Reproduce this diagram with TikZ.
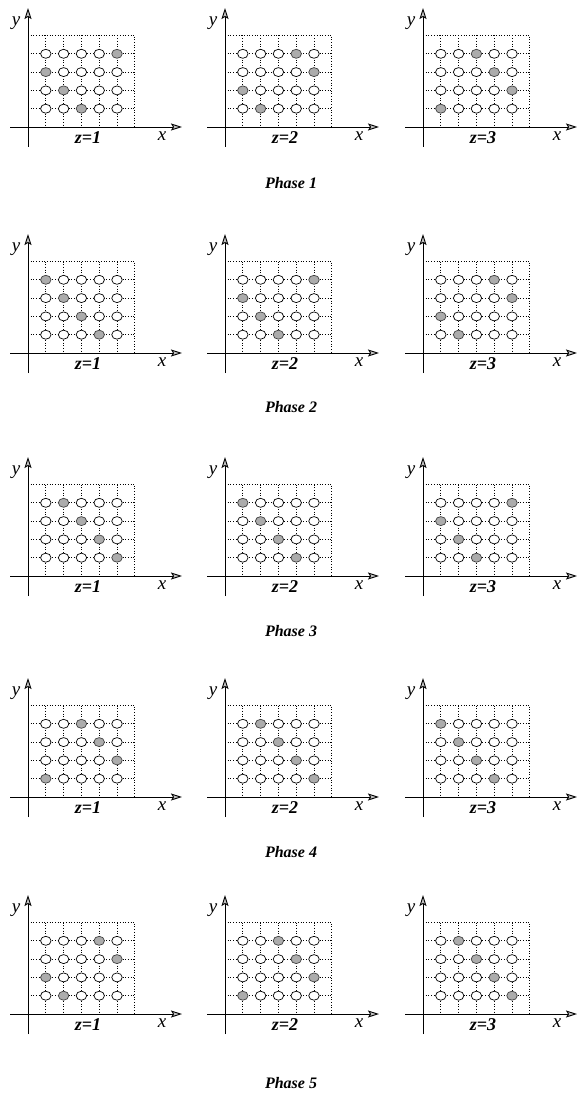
\documentclass[tikz,border=0pt]{standalone}
\usepackage{fontspec}
\setmainfont{Liberation Serif}
\usetikzlibrary{arrows.meta,shapes.geometric}
\tikzset{
  axisline/.style={line width=0.9pt, -{Stealth[length=11pt,width=7pt,inset=2pt,fill=gray!45]}},
  gridline/.style={dotted, line width=0.7pt},
  site/.style={ellipse, draw, line width=0.7pt, fill=white, minimum width=10.5pt, minimum height=9pt, inner sep=0pt},
  occ/.style={site, fill=gray!65, draw=black!75},
  axlabel/.style={font=\fontsize{19}{19}\selectfont\itshape},
  zlabel/.style={font=\fontsize{18}{18}\selectfont\bfseries\itshape},
  phaselabel/.style={font=\fontsize{16}{16}\selectfont\bfseries\itshape},
}
\newcommand\drawpanel[4]{%
  \begin{scope}[shift={(#1,#2)}]
    \foreach \c in {1,...,5} {\draw[gridline] (17.8*\c,-91.5) -- (17.8*\c,0);}
    \foreach \r in {1,...,4} {\draw[gridline] (0,-18.3*\r) -- (106.8,-18.3*\r);}
    \draw[gridline] (0,-91.5) -- (106.8,-91.5) -- (106.8,0);
    \coordinate (p#3z#4xs) at (-18,0);
    \coordinate (p#3z#4xe) at (154,0);
    \coordinate (p#3z#4ys) at (0,20);
    \coordinate (p#3z#4ye) at (0,-119);
    \draw[axisline] (p#3z#4xs) -- (p#3z#4xe);
    \draw[axisline] (p#3z#4ys) -- (p#3z#4ye);
    \foreach \r in {1,...,4} {
      \pgfmathtruncatemacro\fc{mod(#3-#4+8-\r,5)+1}
      \foreach \c in {1,...,5} {
        \ifnum\c=\fc\def\sty{occ}\else\def\sty{site}\fi
        \node[\sty] (p#3z#4c\c r\r) at (17.8*\c,-18.3*\r) {};
      }
    }
    \node[axlabel] (p#3z#4ylab) at (-12,-104) {y};
    \node[axlabel] (p#3z#4xlab) at (134,9) {x};
    \node[zlabel] (p#3z#4zlab) at (60,11) {z=#4};
  \end{scope}%
}
\begin{document}
\begin{tikzpicture}[x=1pt,y=-1pt]
  \fill[white] (0,0) rectangle (582,1099);
  \useasboundingbox (0,0) rectangle (582,1099);
  \foreach \p/\oy/\ly in {1/127/183,2/353/407,3/576/631,4/797/852,5/1014/1083} {
    \foreach \z/\ox in {1/28,2/225,3/423} {
      \drawpanel{\ox}{\oy}{\p}{\z}
    }
    \node[phaselabel] (phase\p) at (291,\ly) {Phase \p};
  }
\end{tikzpicture}
\end{document}
